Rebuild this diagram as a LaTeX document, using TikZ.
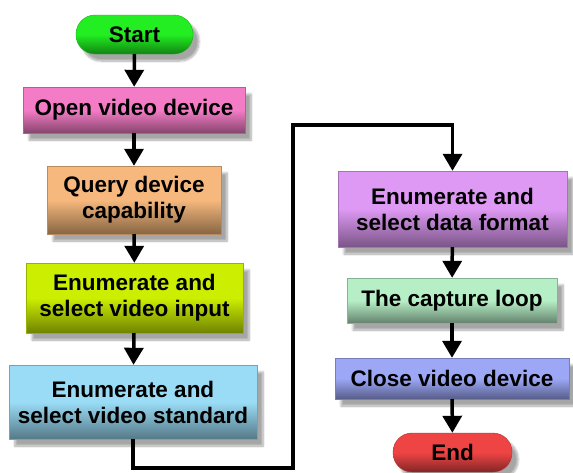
\documentclass[tikz,border=0pt]{standalone}
\usepackage{fontspec}
\setmainfont{Liberation Sans}
\usetikzlibrary{arrows.meta,shadows.blur}

\definecolor{startgreen}{HTML}{22EE22}
\definecolor{openpink}{HTML}{F47CC6}
\definecolor{queryorange}{HTML}{F6B87C}
\definecolor{inputlime}{HTML}{CCEE00}
\definecolor{stdblue}{HTML}{9ADCF6}
\definecolor{fmtpurple}{HTML}{DE99F4}
\definecolor{loopgreen}{HTML}{B6EEC6}
\definecolor{closeblue}{HTML}{9CA8F6}
\definecolor{endred}{HTML}{EE4444}

\tikzset{
  stepbox/.style={rectangle, inner sep=0pt, align=center,
    font=\bfseries\fontsize{22.5}{26}\selectfont,
    top color=#1, bottom color=#1!55!black, middle color=#1,
    draw=#1!75!black, line width=0.4pt,
    blur shadow={shadow xshift=6pt, shadow yshift=-7pt, shadow opacity=35, shadow blur steps=8}},
  termbox/.style={stepbox=#1, rounded corners=19pt},
  flow/.style={line width=3.5pt, -{Triangle[width=19pt,length=17pt]}}
}

\begin{document}
\begin{tikzpicture}[x=1pt,y=-1pt]
\useasboundingbox (0,0) rectangle (573,472);

\node[termbox=startgreen, minimum width=117pt, minimum height=39pt] (start) at (134.5,34.5) {Start};
\node[stepbox=openpink, minimum width=222pt, minimum height=46pt] (open) at (134,110) {Open video device};
\node[stepbox=queryorange, minimum width=174pt, minimum height=68pt] (query) at (134,200) {Query device\\capability};
\node[stepbox=inputlime, minimum width=217pt, minimum height=70pt] (input) at (134.5,298) {Enumerate and\\select video input};
\node[stepbox=stdblue, minimum width=248pt, minimum height=74pt] (standard) at (133,402) {Enumerate and\\select video standard};

\node[stepbox=fmtpurple, minimum width=229pt, minimum height=76pt] (format) at (452.5,209) {Enumerate and\\select data format};
\node[stepbox=loopgreen, minimum width=210pt, minimum height=45pt] (capture) at (452,300.5) {The capture loop};
\node[stepbox=closeblue, minimum width=234pt, minimum height=41pt] (close) at (452,378.5) {Close video device};
\node[termbox=endred, minimum width=119pt, minimum height=39pt] (end) at (452.5,452.5) {End};

\coordinate (turnA) at (293,468);
\coordinate (turnB) at (293,125);

\draw[flow] (start) -- (open);
\draw[flow] (open) -- (query);
\draw[flow] (query) -- (input);
\draw[flow] (input) -- (standard);
\draw[flow] (standard.south) |- (turnA) -- (turnB) -| (format.north);
\draw[flow] (format) -- (capture);
\draw[flow] (capture) -- (close);
\draw[flow] (close) -- (end);

\end{tikzpicture}
\end{document}
